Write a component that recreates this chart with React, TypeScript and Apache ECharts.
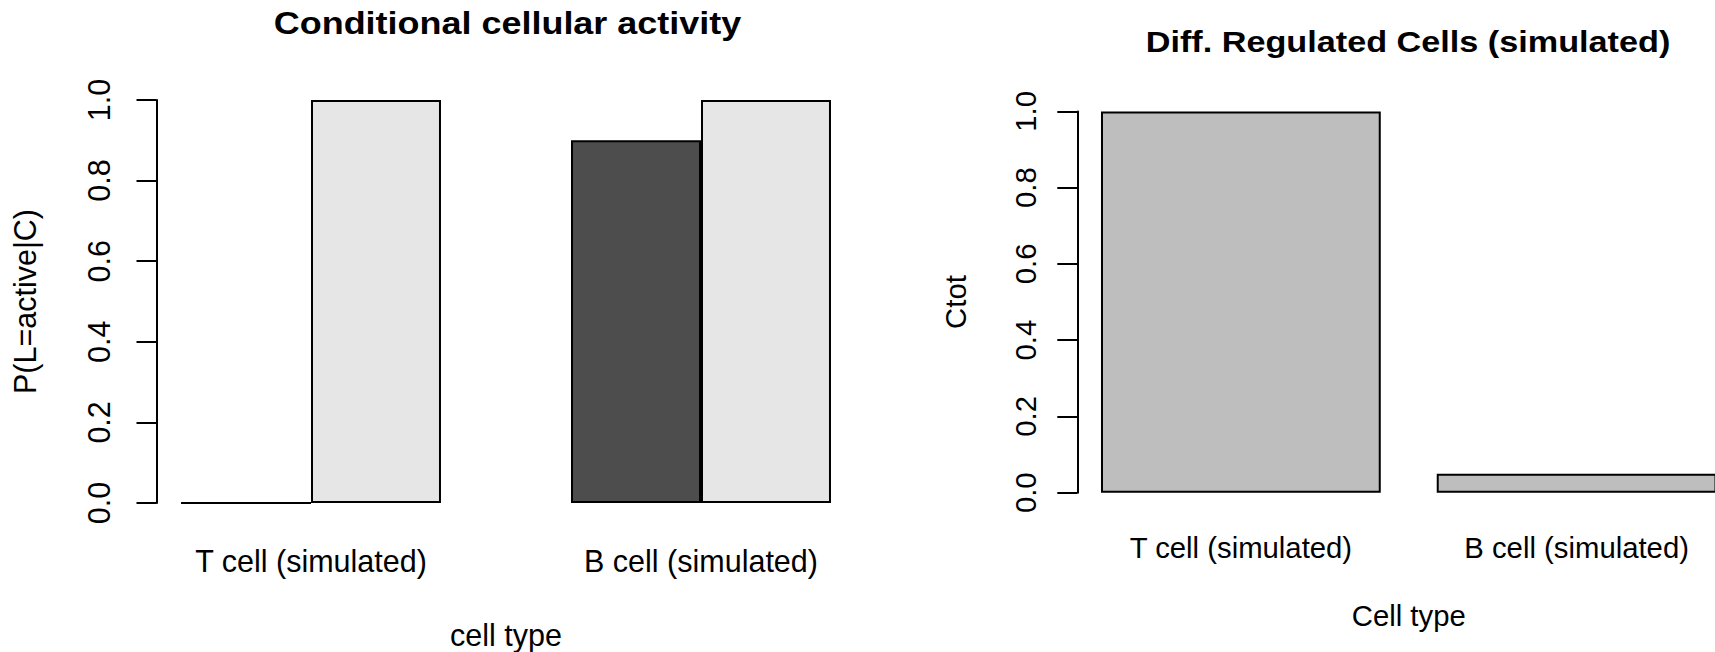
import React, { useEffect, useRef } from "react";
import * as echarts from "echarts";

// ---- data ----
const cellTypes = ["T cell (simulated)", "B cell (simulated)"];
// left panel: conditional probability P(L=active|C), two groups of bars
const activityDark = [0, 0.9];
const activityLight = [1, 1];
// right panel: Ctot per cell type
const ctotValues = [1, 0.05];

const leftTitle = "Conditional cellular activity";
const rightTitle = "Diff. Regulated Cells (simulated)";
const leftXName = "cell type";
const leftYName = "P(L=active|C)";
const rightXName = "Cell type";
const rightYName = "Ctot";

export default function App() {
  const ref = useRef<HTMLDivElement>(null);

  useEffect(() => {
    if (!ref.current) return;
    const chart = echarts.init(ref.current, null, { renderer: "svg" });
    const regular = "'Liberation Sans', Arial, Helvetica, sans-serif";
    const black = "#000000";

    const yAxisCommon = (fs: number, margin: number) => ({
      type: "value" as const,
      min: 0,
      max: 1,
      interval: 0.2,
      splitLine: { show: false },
      axisLine: { show: true, lineStyle: { color: black, width: 2 } },
      axisTick: { show: true, length: 20, lineStyle: { color: black, width: 2 } },
      axisLabel: {
        rotate: 90,
        margin,
        fontSize: fs,
        fontFamily: regular,
        color: black,
        formatter: (v: number) => v.toFixed(1),
      },
      nameLocation: "middle" as const,
      nameTextStyle: { fontSize: fs, fontFamily: regular, color: black },
    });

    const xAxisCommon = (fs: number, margin: number) => ({
      type: "category" as const,
      data: cellTypes,
      axisLine: { show: false },
      axisTick: { show: false },
      axisLabel: {
        interval: 0,
        margin,
        fontSize: fs,
        fontFamily: regular,
        color: black,
      },
      nameLocation: "middle" as const,
      nameTextStyle: { fontSize: fs, fontFamily: regular, color: black },
    });

    const border = { borderColor: black, borderWidth: 2 };

    const titleText = (text: string, x: number, y: number, fs: number, sx: number) => ({
      type: "text" as const,
      x,
      y,
      scaleX: sx,
      silent: true,
      style: {
        text,
        fontFamily: "'Liberation Sans', Arial, sans-serif",
        fontWeight: "bold",
        fontSize: fs,
        fill: black,
        align: "center",
        verticalAlign: "middle",
        textAlign: "center",
        textVerticalAlign: "middle",
      },
    });

    chart.setOption({
      animation: false,
      backgroundColor: "#ffffff",
      graphic: [
        titleText(leftTitle, 507.5, 23.3, 31, 1.16),
        titleText(rightTitle, 1408, 41.9, 29, 1.18),
      ],
      grid: [
        { left: 116, right: 819, top: 100, bottom: 149, outerBoundsMode: "none" },
        { left: 1073, right: -29.5, top: 111.4, bottom: 159.3, outerBoundsMode: "none" },
      ],
      xAxis: [
        { ...xAxisCommon(30.5, 42), gridIndex: 0, name: leftXName, nameGap: 116.3 },
        { ...xAxisCommon(29.3, 40), gridIndex: 1, name: rightXName, nameGap: 108.6 },
      ],
      yAxis: [
        { ...yAxisCommon(30.5, 42), gridIndex: 0, offset: -40.5, name: leftYName, nameGap: 116.4 },
        { ...yAxisCommon(29.3, 37.8), gridIndex: 1, offset: -4.3, name: rightYName, nameGap: 107.8 },
      ],
      series: [
        {
          type: "bar",
          xAxisIndex: 0,
          yAxisIndex: 0,
          data: activityDark,
          barWidth: "33.33%",
          barGap: "0%",
          itemStyle: { color: "#4D4D4D", ...border },
        },
        {
          type: "bar",
          xAxisIndex: 0,
          yAxisIndex: 0,
          data: activityLight,
          barWidth: "33.33%",
          barGap: "0%",
          itemStyle: { color: "#E6E6E6", ...border },
        },
        {
          type: "bar",
          xAxisIndex: 1,
          yAxisIndex: 1,
          data: ctotValues,
          barWidth: "83.33%",
          itemStyle: { color: "#BEBEBE", ...border },
        },
      ],
    });

    return () => {
      chart.dispose();
    };
  }, []);

  return (
    <div
      ref={ref}
      style={{ position: "fixed", left: 0, top: 0, width: 1715, height: 652, background: "#ffffff" }}
    />
  );
}
